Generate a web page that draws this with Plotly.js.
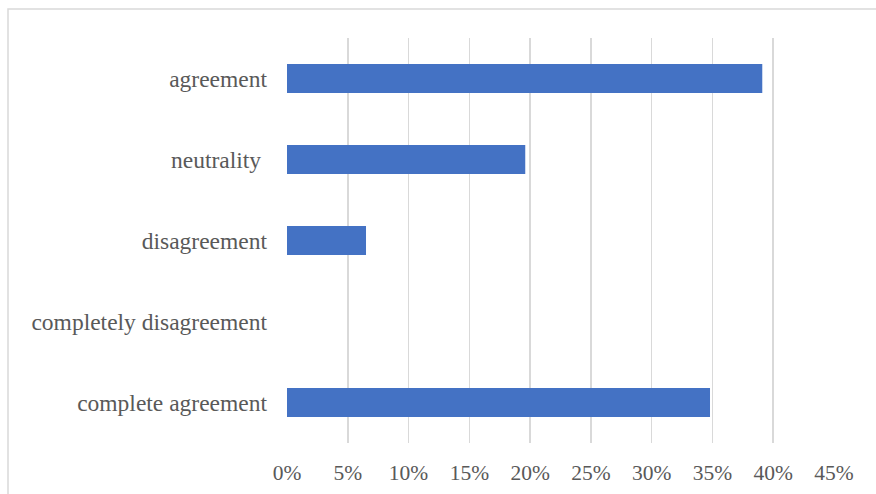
<!DOCTYPE html>
<html>
<head>
<meta charset="utf-8">
<script src="https://cdn.plot.ly/plotly-3.0.1.min.js"></script>
<style>
html, body { margin: 0; padding: 0; background: #fff; }
#chart { width: 876px; height: 494px; }
</style>
</head>
<body>
<div id="chart"></div>
<script>
const categories = ["agreement", "neutrality\u00a0", "disagreement", "completely disagreement", "complete agreement"];
const shares = [0.391, 0.196, 0.065, 0, 0.348];
const tickValues = [0, 0.05, 0.10, 0.15, 0.20, 0.25, 0.30, 0.35, 0.40, 0.45];
const tickLabels = ["0%", "5%", "10%", "15%", "20%", "25%", "30%", "35%", "40%", "45%"];

const fontFamily = "'Liberation Serif', 'Times New Roman', serif";

const trace = {
  type: "bar",
  orientation: "h",
  x: shares,
  y: categories,
  marker: { color: "#4472c4" },
  hoverinfo: "x+y"
};

const layout = {
  width: 876,
  height: 494,
  margin: { l: 287, r: 42, t: 38, b: 51 },
  paper_bgcolor: "#ffffff",
  plot_bgcolor: "#ffffff",
  showlegend: false,
  bargap: 0.64,
  font: { family: fontFamily, color: "#595959", size: 21 },
  xaxis: {
    range: [0, 0.45],
    tickvals: tickValues,
    ticktext: tickLabels,
    showgrid: true,
    gridcolor: "#d9d9d9",
    gridwidth: 1.5,
    zeroline: false,
    showline: false,
    ticks: "",
    ticklabelstandoff: 14,
    tickfont: { family: fontFamily, color: "#595959", size: 21.5 },
    fixedrange: true
  },
  yaxis: {
    type: "category",
    autorange: "reversed",
    showgrid: false,
    zeroline: false,
    showline: false,
    ticks: "",
    ticklabelstandoff: 19,
    tickfont: { family: fontFamily, color: "#595959", size: 23.5 },
    fixedrange: true
  },
  shapes: [{
    type: "rect",
    xref: "paper", yref: "paper",
    x0: (8 - 287) / 547, x1: 2,
    y0: -1, y1: 1 + (38 - 9) / 405,
    line: { color: "#d9d9d9", width: 1.5 },
    fillcolor: "rgba(0,0,0,0)",
    layer: "below"
  }]
};

Plotly.newPlot("chart", [trace], layout, { displayModeBar: false, staticPlot: true });
</script>
</body>
</html>
